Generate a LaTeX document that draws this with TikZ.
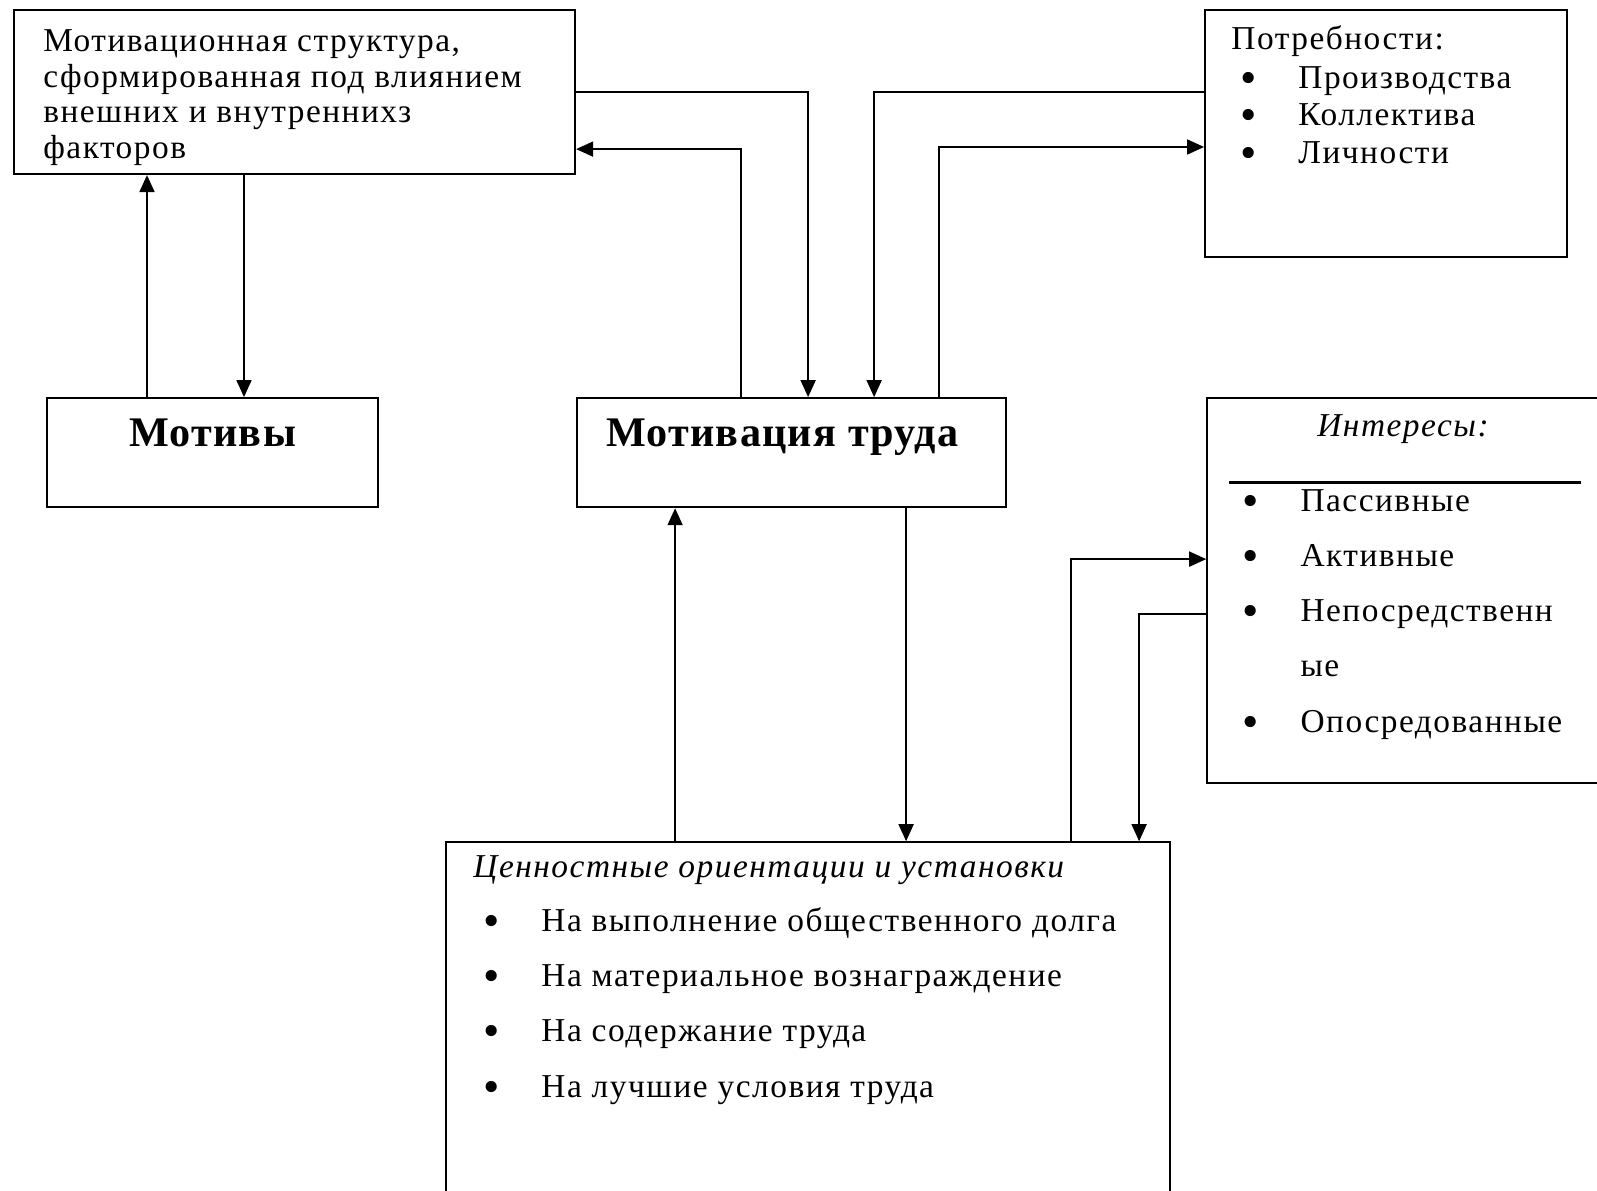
\documentclass[tikz,border=0pt]{standalone}
\usepackage{fontspec}
\setmainfont{Liberation Serif}[LetterSpace=4.5, BoldFeatures={LetterSpace=3}]
\usetikzlibrary{positioning,arrows.meta}

\newcommand{\bulitem}[1]{\makebox[1.16cm][l]{\smash{\raisebox{-0.15em}{\scalebox{1.4}{\textbullet}}}}#1}

\begin{document}
\begin{tikzpicture}[
    % plain boxes with thin black frame
    box/.style={rectangle, draw=black, line width=1.2pt, fill=white, inner sep=0pt},
    txt/.style={inner sep=0pt, align=left, font=\fontsize{19}{20.2}\selectfont},
    listtxt/.style={txt, font=\fontsize{19}{31.4}\selectfont},
    head/.style={inner sep=0pt, font=\fontsize{24}{26}\selectfont\bfseries},
    % connectors
    arrow/.style={-{Triangle[length=0.34cm, width=0.3cm]}, line width=1pt, black}
]

\useasboundingbox (0,0) rectangle (31.94,-23.82);
\clip (0,0) rectangle (31.94,-23.82);

% Boxes
\node[box, minimum width=11.22cm, minimum height=3.28cm, anchor=north west] (motstruct) at (0.26,-0.18) {};
\node[box, minimum width=7.24cm, minimum height=4.94cm, right=12.56cm of motstruct.north east, anchor=north west] (needs) {};
\node[box, minimum width=6.62cm, minimum height=2.18cm, below=4.44cm of motstruct.south west, xshift=0.66cm, anchor=north west] (motives) {};
\node[box, minimum width=8.58cm, minimum height=2.18cm, right=3.94cm of motives.north east, anchor=north west] (labour) {};
\node[box, minimum width=7.86cm, minimum height=7.7cm, right=3.98cm of labour.north east, anchor=north west] (interests) {};
\node[box, minimum width=14.48cm, minimum height=7.2cm, below=6.66cm of labour.south west, xshift=-2.62cm, anchor=north west] (values) {};

% Box texts
\node[txt, below right=0.41cm and 0.6cm of motstruct.north west] (motstructtext) {Мотивационная структура,\\сформированная под влиянием\\внешних и внутреннихз\\факторов};
\node[txt, below right=0.33cm and 0.54cm of needs.north west] (needstitle) {Потребности:};
\node[txt, font=\fontsize{19}{21.4}\selectfont, below right=1.14cm and 0.72cm of needs.north west] (needslist) {\bulitem{Производства}\\\bulitem{Коллектива}\\\bulitem{Личности}};
\node[head, below=0.42cm of motives.north] (motivestext) {Мотивы};
\node[head, below=0.42cm of labour.north, xshift=-0.19cm] (labourtext) {Мотивация труда};
\node[txt, below=0.34cm of interests.north] (intertitle) {\textit{Интересы:}};
\draw[line width=1.8pt] ([xshift=0.46cm, yshift=-1.7cm]interests.north west) -- ([xshift=7.5cm, yshift=-1.7cm]interests.north west);
\node[listtxt, below right=1.84cm and 0.72cm of interests.north west] (interlist) {\bulitem{Пассивные}\\\bulitem{Активные}\\\bulitem{Непосредственн}\\\hspace*{1.16cm}ые\\\bulitem{Опосредованные}};
\node[txt, below right=0.28cm and 0.56cm of values.north west] (valuestitle) {\textit{Ценностные ориентации и установки}};
\node[listtxt, below right=1.32cm and 0.76cm of values.north west] (valueslist) {\bulitem{На выполнение общественного долга}\\\bulitem{На материальное вознаграждение}\\\bulitem{На содержание труда}\\\bulitem{На лучшие условия труда}};

% Upper connections
\draw[arrow] (motstruct.east) -| ([xshift=4.64cm]labour.north west);
\draw[arrow] ([xshift=3.3cm]labour.north west) |- ([yshift=0.52cm]motstruct.south east);
\draw[arrow] ([yshift=-1.66cm]needs.north west) -| ([xshift=5.96cm]labour.north west);
\draw[arrow] ([xshift=7.26cm]labour.north west) |- ([yshift=-2.76cm]needs.north west);
\draw[arrow] ([xshift=2.02cm]motives.north west) -- ([xshift=2.68cm]motstruct.south west);
\draw[arrow] ([xshift=4.62cm]motstruct.south west) -- ([xshift=3.96cm]motives.north west);

% Lower connections
\draw[arrow] ([xshift=4.6cm]values.north west) -- ([xshift=1.98cm]labour.south west);
\draw[arrow] ([xshift=6.6cm]labour.south west) -- ([xshift=9.22cm]values.north west);
\draw[arrow] ([xshift=12.52cm]values.north west) |- ([yshift=-3.24cm]interests.north west);
\draw[arrow] ([yshift=-4.34cm]interests.north west) -| ([xshift=13.88cm]values.north west);

\end{tikzpicture}
\end{document}
